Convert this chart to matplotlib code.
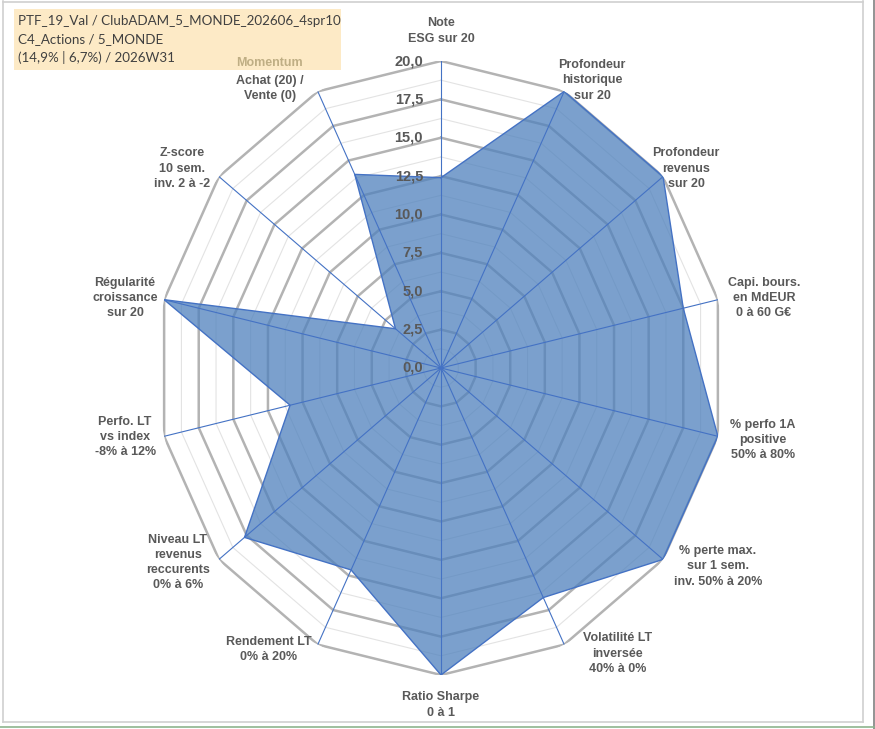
import numpy as np
import matplotlib
matplotlib.use("Agg")
import matplotlib.pyplot as plt
from matplotlib.patches import Rectangle
from matplotlib.lines import Line2D

plt.rcParams["font.family"] = ["Liberation Sans", "DejaVu Sans"]

# --- data ---
categories = [
    "Note\nESG sur 20",
    "Profondeur\nhistorique\nsur 20",
    "Profondeur\nrevenus\nsur 20",
    "Capi. bours.\nen MdEUR\n0 à 60 G€",
    "% perfo 1A\npositive\n50% à 80%",
    "% perte max.\nsur 1 sem.\ninv. 50% à 20%",
    "Volatilité LT\ninversée\n40% à 0%",
    "Ratio Sharpe\n0 à 1",
    "Rendement LT\n0% à 20%",
    "Niveau LT\nrevenus\nreccurents\n0% à 6%",
    "Perfo. LT\nvs index\n-8% à 12%",
    "Régularité\ncroissance\nsur 20",
    "Z-score\n10 sem.\ninv. 2 à -2",
    "Achat (20) /\nVente (0)",
]
scores = [12.4, 20.0, 20.0, 17.5, 20.0, 20.0, 16.6, 20.0, 14.6, 17.7, 10.9, 20.0, 4.1, 14.0]
r_ticks = [0.0, 2.5, 5.0, 7.5, 10.0, 12.5, 15.0, 17.5, 20.0]
title_lines = [
    "PTF_19_Val / ClubADAM_5_MONDE_202606_4spr10",
    "C4_Actions / 5_MONDE",
    "(14,9% | 6,7%) / 2026W31",
]

# label placement (pixels from the outer vertex), layout only
label_offsets = [(0, 30), (28, 11), (23, 8), (46, 2), (45, -4), (55, -7), (53, -9),
                 (0, -30), (-49, -5), (-41, -3), (-39, -1), (-39, 2), (-37, 8), (-48, 3)]

GRAY_TXT = "#595959"
BLUE = "#4472C4"

n = len(scores)
angles = np.linspace(0, 2 * np.pi, n, endpoint=False)
ang_closed = np.append(angles, angles[0])

fig = plt.figure(figsize=(8.75, 7.29), dpi=100)
W, H = 875, 729
ax = fig.add_axes([157 / W, (H - 675) / H, 568 / W, 614 / H], projection="polar")
ax.set_aspect("auto")
ax.set_theta_zero_location("N")
ax.set_theta_direction(-1)
ax.set_ylim(0, 20)
ax.set_xticks([])
ax.set_yticks([])
ax.grid(False)
ax.spines["polar"].set_visible(False)
ax.patch.set_alpha(0)

# spider-web grid: minor then major rings
for r in np.arange(1.25, 20, 2.5):
    ax.plot(ang_closed, [r] * (n + 1), color="#E3E3E3", lw=0.8, zorder=1)
for r in r_ticks[1:]:
    ax.plot(ang_closed, [r] * (n + 1), color="#B3B3B3", lw=1.8, zorder=2)

# series
vals = np.append(scores, scores[0])
ax.fill(ang_closed, vals, facecolor="#4F81BD", alpha=0.75, zorder=3)
ax.plot(ang_closed, vals, color=BLUE, lw=1.0, zorder=4)

# spokes
for a in angles:
    ax.plot([a, a], [0, 20], color=BLUE, lw=0.8, zorder=5)

# radial tick labels
for r in r_ticks:
    ax.annotate(f"{r:.1f}".replace(".", ","), xy=(0, r), xytext=(-18, 0),
                textcoords="offset pixels", ha="right", va="center",
                fontsize=10.5, fontweight="bold", color=GRAY_TXT, zorder=6)

# category labels
for a, lab, off in zip(angles, categories, label_offsets):
    ax.annotate(lab, xy=(a, 20), xytext=off, textcoords="offset pixels",
                ha="center", va="center", multialignment="center",
                fontsize=9, fontweight="bold", color=GRAY_TXT, linespacing=1.35,
                annotation_clip=False, zorder=6)
ax.annotate("Momentum", xy=(angles[-1], 20), xytext=(label_offsets[-1][0], 28),
            textcoords="offset pixels", ha="center", va="center",
            fontsize=9, fontweight="bold", color="#BFAE84", annotation_clip=False)

# title box (behind the chart)
fig.patches.append(Rectangle((14 / W, 1 - 70 / H), 327 / W, 61 / H,
                             transform=fig.transFigure, facecolor="#FDEAC6",
                             edgecolor="none", zorder=-1))
for i, line in enumerate(title_lines):
    fig.text(18 / W, 1 - (21 + 18.5 * i) / H, line, ha="left", va="center",
             fontsize=9.6, color="#404040", family=["Lato", "DejaVu Sans"])

# chart frame
frame = [
    ((2.5, 2.5), (1, 722)),
    ((2.5, 863), (1.5, 1.5)),
    ((863, 863), (1, 722)),
    ((2.5, 863), (722, 722)),
]
for xs, ys in frame:
    fig.lines.append(Line2D([x / W for x in xs], [1 - y / H for y in ys],
                            transform=fig.transFigure, color="#D0D0D0", lw=1.2))
fig.lines.append(Line2D([874 / W, 874 / W], [0, 1], transform=fig.transFigure,
                        color="#808080", lw=1.2))
fig.lines.append(Line2D([0, 874 / W], [1 - 727 / H, 1 - 727 / H],
                        transform=fig.transFigure, color="#8DB48D", lw=1.2))

fig.savefig("out.png", dpi=100)
